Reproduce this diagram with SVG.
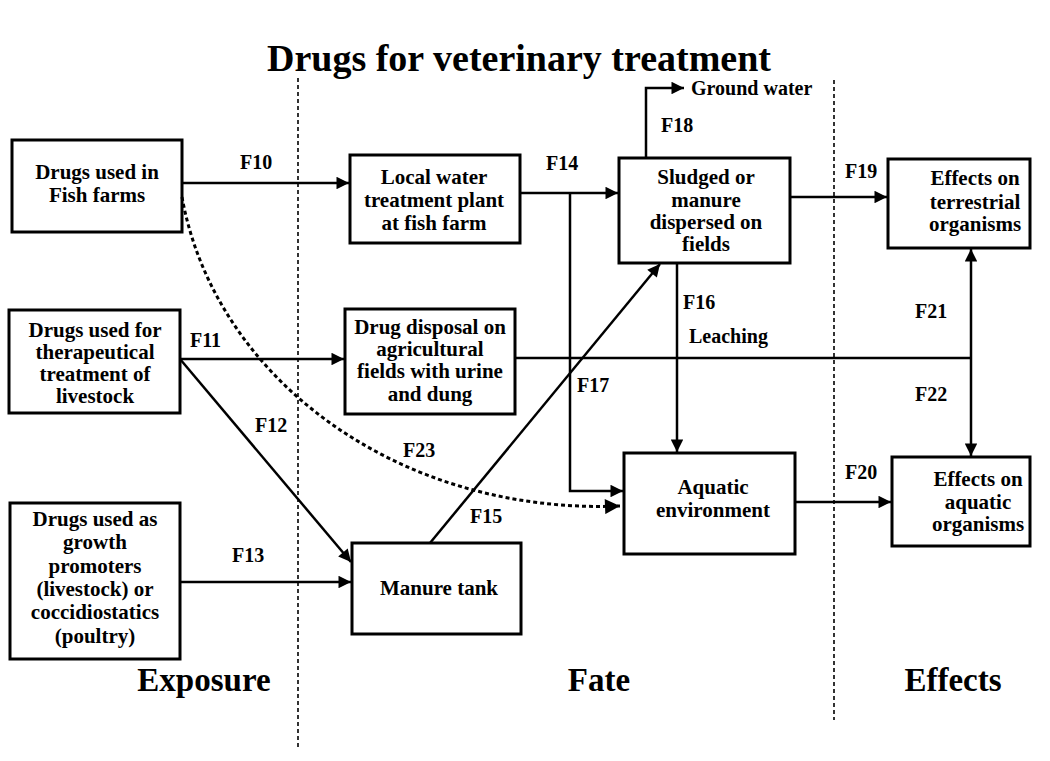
<svg xmlns="http://www.w3.org/2000/svg" width="1050" height="761" viewBox="0 0 1050 761">
<style>
text{font-family:"Liberation Serif","Times New Roman",serif;font-weight:bold;fill:#000}
.t{font-size:21px;text-anchor:middle}
.l{font-size:20px}
.h{font-size:33px;text-anchor:middle}
.title{font-size:38px;text-anchor:middle}
rect{fill:#fff;stroke:#000;stroke-width:3}
.c{fill:none;stroke:#000;stroke-width:2.5}
.d{fill:none;stroke:#000;stroke-width:3;stroke-dasharray:4 3}
.div{fill:none;stroke:#000;stroke-width:1.6;stroke-dasharray:4 3}
</style>
<defs>
<marker id="a" viewBox="0 0 10 10" refX="10" refY="5" markerWidth="6" markerHeight="5" markerUnits="strokeWidth" orient="auto">
<path d="M0,0 L10,5 L0,10 z" fill="#000"/>
</marker>
</defs>
<rect x="0" y="0" width="1050" height="761" style="stroke:none"/>
<text class="title" x="519" y="71">Drugs for veterinary treatment</text>
<g id="dividers">
<line class="div" x1="298" y1="78" x2="298" y2="748"/>
<line class="div" x1="834" y1="80" x2="834" y2="720"/>
</g>
<g id="n1"><rect x="12" y="140" width="170" height="92"/><text class="t" x="97" y="179">Drugs used in</text><text class="t" x="97" y="202">Fish farms</text></g>
<g id="n2"><rect x="9" y="310" width="171" height="103"/><text class="t" x="95" y="337">Drugs used for</text><text class="t" x="95" y="359">therapeutical</text><text class="t" x="95" y="381">treatment of</text><text class="t" x="95" y="403">livestock</text></g>
<g id="n3"><rect x="10" y="503" width="170" height="156"/><text class="t" x="95" y="526">Drugs used as</text><text class="t" x="95" y="549">growth</text><text class="t" x="95" y="573">promoters</text><text class="t" x="95" y="596">(livestock) or</text><text class="t" x="95" y="619">coccidiostatics</text><text class="t" x="95" y="643">(poultry)</text></g>
<g id="n4"><rect x="350" y="155" width="170" height="88"/><text class="t" x="434" y="184">Local water</text><text class="t" x="434" y="207">treatment plant</text><text class="t" x="434" y="230">at fish farm</text></g>
<g id="n5"><rect x="345" y="309" width="170" height="105"/><text class="t" x="430" y="334">Drug disposal on</text><text class="t" x="430" y="356">agricultural</text><text class="t" x="430" y="378">fields with urine</text><text class="t" x="430" y="401">and dung</text></g>
<g id="n6"><rect x="352" y="543" width="169" height="91"/><text class="t" x="439" y="595">Manure tank</text></g>
<g id="n7"><rect x="619" y="158" width="171" height="105"/><text class="t" x="706" y="184">Sludged or</text><text class="t" x="706" y="207">manure</text><text class="t" x="706" y="229">dispersed on</text><text class="t" x="706" y="251">fields</text></g>
<g id="n8"><rect x="624" y="453" width="171" height="101"/><text class="t" x="713" y="494">Aquatic</text><text class="t" x="713" y="517">environment</text></g>
<g id="n9"><rect x="888" y="159" width="142" height="89"/><text class="t" x="975" y="185">Effects on</text><text class="t" x="975" y="209">terrestrial</text><text class="t" x="975" y="231">organisms</text></g>
<g id="n10"><rect x="892" y="457" width="138" height="89"/><text class="t" x="978" y="486">Effects on</text><text class="t" x="978" y="509">aquatic</text><text class="t" x="978" y="531">organisms</text></g>
<g id="connectors">
<path class="c" d="M182,183 H349" marker-end="url(#a)"/>
<path class="c" d="M180,359 H344" marker-end="url(#a)"/>
<path class="c" d="M180,359 L351,562" marker-end="url(#a)"/>
<path class="c" d="M180,582 H351" marker-end="url(#a)"/>
<path class="c" d="M430,543 L660,264" marker-end="url(#a)"/>
<path class="c" d="M520,193 H618" marker-end="url(#a)"/>
<path class="c" d="M570,193 V491 H623" marker-end="url(#a)"/>
<path class="c" d="M677,263 V452" marker-end="url(#a)"/>
<path class="c" d="M646,158 V88 H684" marker-end="url(#a)"/>
<path class="c" d="M790,197 H887" marker-end="url(#a)"/>
<path class="c" d="M515,358 H971"/>
<path class="c" d="M971,358 V249" marker-end="url(#a)"/>
<path class="c" d="M971,358 V456" marker-end="url(#a)"/>
<path class="c" d="M795,502 H891" marker-end="url(#a)"/>
<path class="d" d="M182,197 C215,380 400,515 620,506" marker-end="url(#a)"/>
</g>
<g id="labels">
<text class="l" x="240" y="169">F10</text>
<text class="l" x="190" y="347">F11</text>
<text class="l" x="255" y="432">F12</text>
<text class="l" x="232" y="562">F13</text>
<text class="l" x="546" y="170">F14</text>
<text class="l" x="470" y="523">F15</text>
<text class="l" x="683" y="309">F16</text>
<text class="l" x="689" y="343">Leaching</text>
<text class="l" x="577" y="392">F17</text>
<text class="l" x="661" y="132">F18</text>
<text class="l" x="691" y="95">Ground water</text>
<text class="l" x="845" y="178">F19</text>
<text class="l" x="845" y="479">F20</text>
<text class="l" x="915" y="318">F21</text>
<text class="l" x="915" y="401">F22</text>
<text class="l" x="403" y="457">F23</text>
</g>
<g id="sections">
<text class="h" x="204" y="691">Exposure</text>
<text class="h" x="599" y="691">Fate</text>
<text class="h" x="953" y="691">Effects</text>
</g>
</svg>
